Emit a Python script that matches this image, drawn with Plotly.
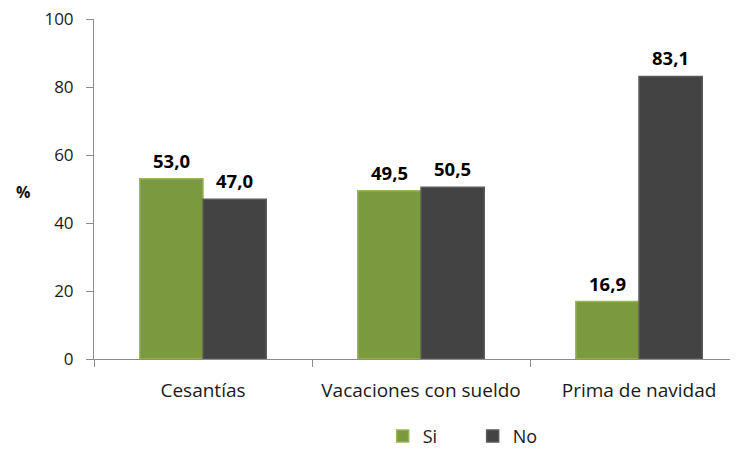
import plotly.graph_objects as go

categories = ["Cesantías", "Vacaciones con sueldo", "Prima de navidad"]
si_values = [53.0, 49.5, 16.9]
no_values = [47.0, 50.5, 83.1]
y_ticks = [0, 20, 40, 60, 80, 100]

FONT = "'Open Sans', sans-serif"
GREEN = "#7b9a3d"
GREY = "#434343"

# layout geometry (page has ~8px body offset, compensated in margins)
W, H = 738, 452
ML, MR, MT, MB = 86, 8, 11, 101
X_RANGE = [-0.5, 2.454]
BARGAP = 0.42
px_per_cat = (W - ML - MR) / (X_RANGE[1] - X_RANGE[0])
bar_px = px_per_cat * (1 - BARGAP) / 2

fig = go.Figure()
fig.add_trace(go.Bar(
    x=categories, y=si_values, name="Si",
    marker=dict(color=GREEN, line=dict(color="#98b558", width=1.5)),
))
fig.add_trace(go.Bar(
    x=categories, y=no_values, name="No",
    marker=dict(color=GREY, line=dict(color="#5a5a5a", width=1.5)),
))

annotations = []
for vals, sign in ((si_values, -1), (no_values, 1)):
    for cat, v in zip(categories, vals):
        annotations.append(dict(
            x=cat, y=v, xref="x", yref="y", text=f"<b>{v:.1f}</b>".replace(".", ","),
            showarrow=False, xshift=sign * bar_px / 2, yshift=4, yanchor="bottom",
            font=dict(family=FONT, size=18.5, color="#000000"),
        ))
annotations.append(dict(text="<b>%</b>", xref="paper", yref="paper", x=-0.125, y=0.49,
                        showarrow=False, font=dict(family=FONT, size=16, color="#111111")))

fig.update_layout(
    width=W, height=H,
    margin=dict(l=ML, r=MR, t=MT, b=MB, autoexpand=False),
    paper_bgcolor="white", plot_bgcolor="white",
    barmode="group", bargap=BARGAP, bargroupgap=0,
    font=dict(family=FONT, size=18, color="#1a1a1a"),
    showlegend=True,
    legend=dict(orientation="h", x=0.588, xanchor="center", y=-0.227, yanchor="middle",
                font=dict(family=FONT, size=18, color="#1a1a1a"),
                entrywidth=45, entrywidthmode="pixels", itemwidth=30, traceorder="normal"),
    xaxis=dict(
        range=X_RANGE, showline=True, linecolor="#8c8c8c", linewidth=1,
        ticks="outside", tickson="boundaries", ticklen=7, tickcolor="#8c8c8c",
        showgrid=False, tickfont=dict(family=FONT, size=19, color="#1a1a1a"),
        ticklabelstandoff=14, automargin=False,
    ),
    yaxis=dict(
        range=[0, 100], tickvals=y_ticks, showline=True, linecolor="#8c8c8c", linewidth=1,
        ticks="outside", ticklen=7, tickcolor="#8c8c8c", showgrid=False, zeroline=False,
        tickfont=dict(family=FONT, size=17, color="#1a1a1a"), ticklabelstandoff=9,
        ticklabeloverflow="allow", automargin=False,
    ),
    annotations=annotations,
)

fig.write_html("out.html")
